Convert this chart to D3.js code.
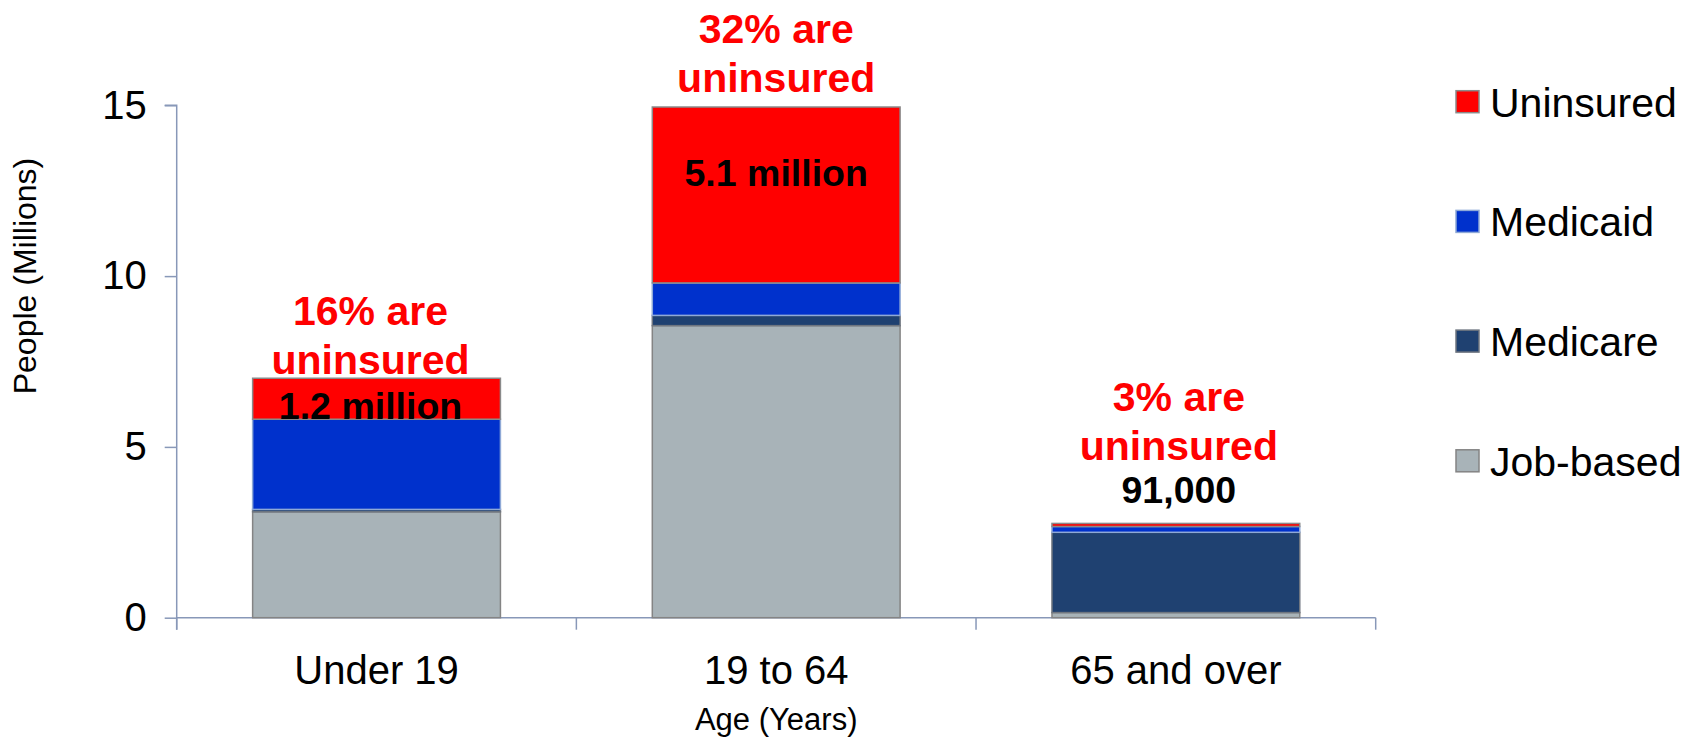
<!DOCTYPE html>
<html>
<head>
<meta charset="utf-8">
<script src="https://cdn.jsdelivr.net/npm/d3@7"></script>
<style>
  html, body { margin: 0; padding: 0; background: #ffffff; }
  svg { display: block; }
  text { font-family: "Liberation Sans", Arial, sans-serif; }
</style>
</head>
<body>
<svg id="chart" width="1700" height="742"></svg>
<script>
// ---- data ----
const categories = ["Under 19", "19 to 64", "65 and over"];
const seriesNames = ["Job-based", "Medicare", "Medicaid", "Uninsured"];
const jobBased  = [3.10, 8.55, 0.15];
const medicare  = [0.07, 0.30, 2.35];
const medicaid  = [2.64, 0.95, 0.17];
const uninsured = [1.20, 5.15, 0.09];
const pctLabels = ["16% are", "32% are", "3% are"];
const countLabels = ["1.2 million", "5.1 million", "91,000"];
const yTicks = [0, 5, 10, 15];
const yTitle = "People (Millions)";
const xTitle = "Age (Years)";

// ---- styles ----
const FONT = '"Liberation Sans", Arial, sans-serif';
const colors = { "Job-based": "#a8b3b8", "Medicare": "#1f4171", "Medicaid": "#0031cc", "Uninsured": "#ff0000" };
const strokes = { "Job-based": "#848484", "Medicare": "#6f7680", "Medicaid": "#8fa9d6", "Uninsured": "#8a8a8a" };
const axisColor = "#8898b8";

const svg = d3.select("#chart");
svg.append("rect").attr("width", 1700).attr("height", 742).attr("fill", "#fff");

const x = d3.scaleBand().domain(categories).range([176.7, 1375.7])
  .paddingInner(0.38).paddingOuter(0.19);
const y = d3.scaleLinear().domain([0, 15]).range([617.7, 105.3]);

// stacked data
const table = categories.map((c, i) => ({
  cat: c, "Job-based": jobBased[i], "Medicare": medicare[i], "Medicaid": medicaid[i], "Uninsured": uninsured[i]
}));
const stacked = d3.stack().keys(seriesNames)(table);

// y axis
const yAxis = d3.axisLeft(y).tickValues(yTicks).tickSize(12).tickPadding(18).tickFormat(d3.format("d"));
const gy = svg.append("g").attr("transform", `translate(${x.range()[0]},0)`).call(yAxis);
gy.select(".domain").attr("stroke", axisColor).attr("stroke-width", 1.5)
  .attr("d", `M-12,${y(15)}H0V${y(0) + 12}`);
gy.selectAll(".tick line").attr("stroke", axisColor).attr("stroke-width", 1.5);
gy.selectAll(".tick text").attr("fill", "#000").style("font-size", "40px").style("font-family", FONT);

// x axis
const gx = svg.append("g").attr("transform", `translate(0,${y(0)})`)
  .call(d3.axisBottom(x).tickSize(0).tickPadding(38));
gx.select(".domain").attr("stroke", axisColor).attr("stroke-width", 1.5)
  .attr("d", `M${x.range()[0]},0H${x.range()[1]}`);
gx.selectAll(".tick text").attr("fill", "#000").style("font-size", "40px").style("font-family", FONT);
// boundary ticks
const bounds = d3.range(categories.length + 1).map(i => x.range()[0] + i * x.step());
gx.selectAll("line.bnd").data(bounds).enter().append("line").attr("class", "bnd")
  .attr("x1", d => d).attr("x2", d => d).attr("y1", 0).attr("y2", 12)
  .attr("stroke", axisColor).attr("stroke-width", 1.5);

// bars
const layers = svg.append("g").selectAll("g").data(stacked).enter().append("g")
  .attr("fill", d => colors[d.key]).attr("stroke", d => strokes[d.key]);
layers.selectAll("rect").data(d => d).enter().append("rect")
  .attr("x", d => x(d.data.cat))
  .attr("width", x.bandwidth())
  .attr("y", d => y(d[1]))
  .attr("height", d => y(d[0]) - y(d[1]))
  .attr("stroke-width", 1.5);

// annotations
const totals = table.map(d => seriesNames.reduce((s, k) => s + d[k], 0));
const dxOff = [-6, 0, 3];
const pctDy = [-4, -15, -63];
const cntDy = [41, 79, -20];
const ann = svg.append("g").style("font-family", FONT);
categories.forEach((c, i) => {
  const cx = x(c) + x.bandwidth() / 2 + dxOff[i];
  const top = y(totals[i]);
  ann.append("text").attr("x", cx).attr("y", top + pctDy[i] - 49)
    .attr("text-anchor", "middle").attr("fill", "#ff0000")
    .style("font-size", "41px").style("font-weight", "bold").text(pctLabels[i]);
  ann.append("text").attr("x", cx).attr("y", top + pctDy[i])
    .attr("text-anchor", "middle").attr("fill", "#ff0000")
    .style("font-size", "41px").style("font-weight", "bold").text("uninsured");
  ann.append("text").attr("x", cx).attr("y", top + cntDy[i])
    .attr("text-anchor", "middle").attr("fill", "#000")
    .style("font-size", "37.5px").style("font-weight", "bold").text(countLabels[i]);
});

// axis titles
svg.append("text").attr("transform", "translate(36,276) rotate(-90)")
  .attr("text-anchor", "middle").style("font-size", "32px").attr("fill", "#000").text(yTitle);
svg.append("text").attr("x", (x.range()[0] + x.range()[1]) / 2).attr("y", 730)
  .attr("text-anchor", "middle").style("font-size", "31px").attr("fill", "#000").text(xTitle);

// legend
const legendItems = seriesNames.slice().reverse();
const lg = svg.append("g").attr("transform", "translate(1456,0)");
const li = lg.selectAll("g").data(legendItems).enter().append("g")
  .attr("transform", (d, i) => `translate(0,${101.7 + i * 119.7})`);
li.append("rect").attr("x", 0).attr("y", -11).attr("width", 23).attr("height", 22)
  .attr("fill", d => colors[d]).attr("stroke", d => strokes[d]).attr("stroke-width", 1.5);
li.append("text").attr("x", 34).attr("y", 15).style("font-size", "41px").attr("fill", "#000").text(d => d);
</script>
</body>
</html>
